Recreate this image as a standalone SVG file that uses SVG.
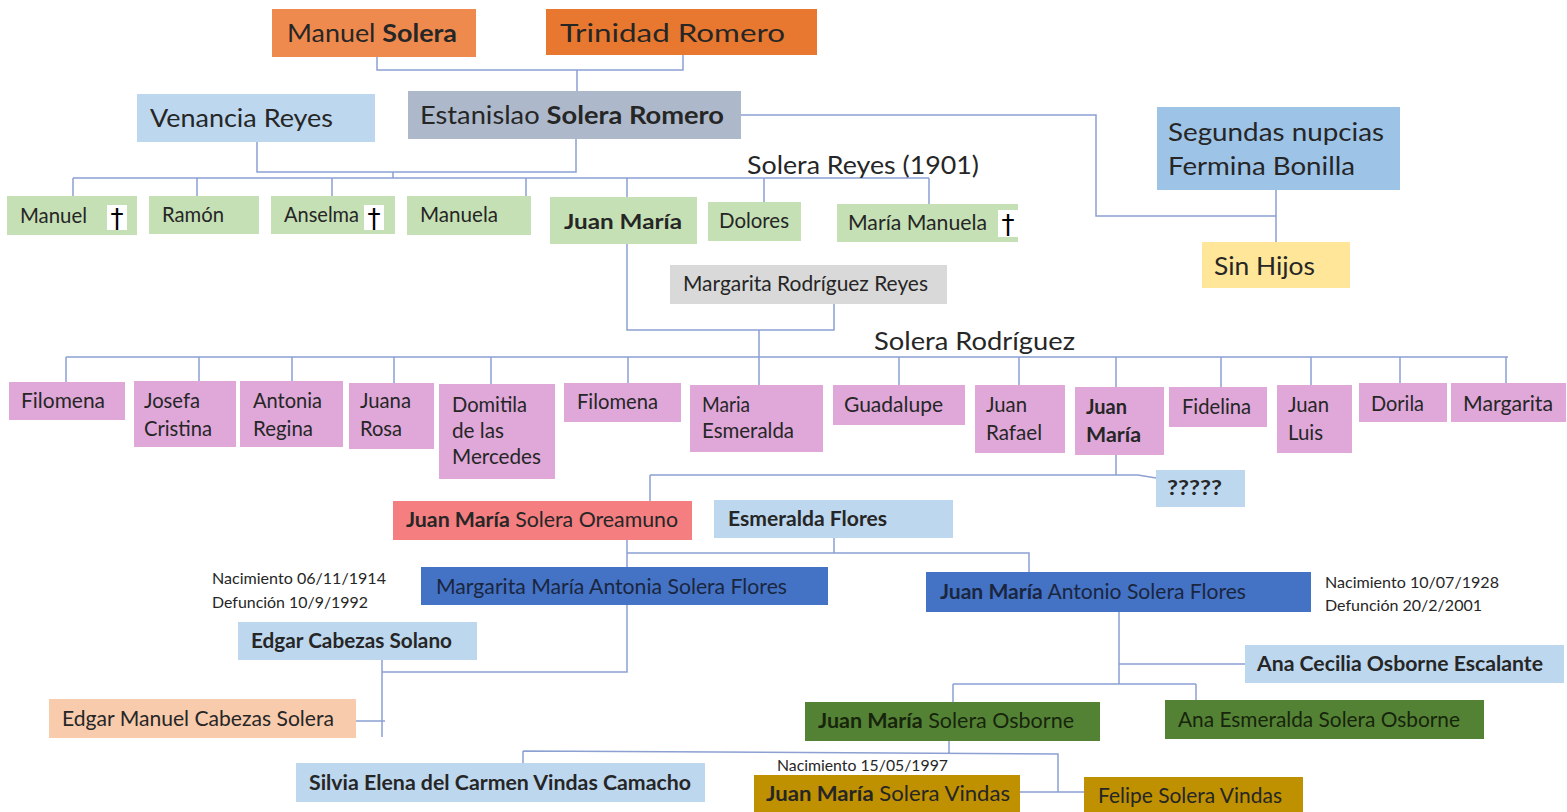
<svg xmlns="http://www.w3.org/2000/svg" width="1567" height="812" viewBox="0 0 1567 812">
<style>
text{font-family:Lato,"Open Sans","Liberation Sans",sans-serif;fill:#262626}
.b{font-weight:bold}
.L{font-size:25px}
.M{font-size:21px}
.S{font-size:15px}
.c{fill:none;stroke:#8CA0D2;stroke-width:1.5}
.cr{font-family:"DejaVu Sans",sans-serif;font-size:26px;fill:#000}
.dk{fill:#1a2640}
.dg{fill:#17250c}
</style>
<rect width="1567" height="812" fill="#fff"/>
<g id="connectors" class="c">
<path d="M377,57V70H683V55M577,70V91"/>
<path d="M257,142V172H576V139M393,172V178"/>
<path d="M73,178H929M73,178V196M197,178V196M332,178V196M526,178V196M627,178V198M764,178V202M929,178V204"/>
<path d="M740,115H1096V216H1276M1276,190V242"/>
<path d="M627,244V330H834V304M759,330V385"/>
<path d="M66,357H1508M66,357V382M199,357V381M292,357V381M394,357V383M491,357V384M628,357V383M899,357V385M1019,357V385M1116,357V387M1221,357V387M1311,357V385M1400,357V383M1506,357V383"/>
<path d="M1116,455V475M650,475H1138L1156,478M650,475V501"/>
<path d="M627,540V567M627,553H1029V572M834,538V553"/>
<path d="M627,605V672H382M382,659V737M356,721H385"/>
<path d="M1119,612V684M1119,664H1245M953,684H1196M953,684V702M1196,684V700"/>
<path d="M949,741V753M523,751L1058,754V792M1020,792H1085M523,751V763"/>
</g>
<g id="n-manuel-solera"><rect x="272" y="9" width="204" height="48" fill="#EF8A4E"/><text class="L" x="287" y="42" textLength="170" lengthAdjust="spacingAndGlyphs">Manuel <tspan class="b">Solera</tspan></text></g>
<g id="n-trinidad"><rect x="546" y="9" width="271" height="46" fill="#E8782F"/><text class="L" x="560" y="42" textLength="225" lengthAdjust="spacingAndGlyphs">Trinidad Romero</text></g>
<g id="n-venancia"><rect x="137" y="94" width="238" height="48" fill="#BDD7EE"/><text class="L" x="150" y="127" textLength="183" lengthAdjust="spacingAndGlyphs">Venancia Reyes</text></g>
<g id="n-estanislao"><rect x="408" y="91" width="333" height="48" fill="#ADB9CA"/><text class="L" x="420" y="124" textLength="304" lengthAdjust="spacingAndGlyphs">Estanislao <tspan class="b">Solera Romero</tspan></text></g>
<g id="n-segundas"><rect x="1157" y="107" width="243" height="83" fill="#9DC3E6"/><text class="L" x="1168" y="141" textLength="216" lengthAdjust="spacingAndGlyphs">Segundas nupcias</text><text class="L" x="1168" y="175" textLength="187" lengthAdjust="spacingAndGlyphs">Fermina Bonilla</text></g>
<g id="n-sinhijos"><rect x="1202" y="242" width="148" height="46" fill="#FFE699"/><text class="L" x="1214" y="275" textLength="101" lengthAdjust="spacingAndGlyphs">Sin Hijos</text></g>
<text id="lbl-solera-reyes" class="L" x="747" y="174" textLength="232" lengthAdjust="spacingAndGlyphs">Solera Reyes (1901)</text>
<g id="n-manuel"><rect x="7" y="196" width="130" height="39" fill="#C5E0B4"/><text class="M" x="20" y="223" textLength="67" lengthAdjust="spacingAndGlyphs">Manuel</text><rect x="107" y="205" width="20" height="25" fill="#fff"/><text class="cr" x="117" y="228" text-anchor="middle">†</text></g>
<g id="n-ramon"><rect x="149" y="196" width="110" height="38" fill="#C5E0B4"/><text class="M" x="162" y="222" textLength="62" lengthAdjust="spacingAndGlyphs">Ramón</text></g>
<g id="n-anselma"><rect x="271" y="196" width="124" height="38" fill="#C5E0B4"/><text class="M" x="284" y="222" textLength="75" lengthAdjust="spacingAndGlyphs">Anselma</text><rect x="364" y="205" width="20" height="25" fill="#fff"/><text class="cr" x="374" y="228" text-anchor="middle">†</text></g>
<g id="n-manuela"><rect x="407" y="196" width="124" height="39" fill="#C5E0B4"/><text class="M" x="420" y="222" textLength="78" lengthAdjust="spacingAndGlyphs">Manuela</text></g>
<g id="n-juanmaria1"><rect x="550" y="197" width="147" height="47" fill="#C5E0B4"/><text class="M b" x="564" y="229" textLength="118" lengthAdjust="spacingAndGlyphs">Juan María</text></g>
<g id="n-dolores"><rect x="708" y="202" width="93" height="39" fill="#C5E0B4"/><text class="M" x="719" y="228" textLength="70" lengthAdjust="spacingAndGlyphs">Dolores</text></g>
<g id="n-mariamanuela"><rect x="837" y="204" width="181" height="38" fill="#C5E0B4"/><text class="M" x="848" y="230" textLength="139" lengthAdjust="spacingAndGlyphs">María Manuela</text><rect x="998" y="210" width="20" height="27" fill="#fff"/><text class="cr" x="1008" y="234" text-anchor="middle">†</text></g>
<g id="n-margarita-rr"><rect x="670" y="265" width="277" height="39" fill="#D9D9D9"/><text class="M" x="683" y="291" textLength="245" lengthAdjust="spacingAndGlyphs">Margarita Rodríguez Reyes</text></g>
<text id="lbl-solera-rodriguez" class="L" x="874" y="350" textLength="201" lengthAdjust="spacingAndGlyphs">Solera Rodríguez</text>
<g id="n-filomena1"><rect x="9" y="382" width="116" height="38" fill="#DFA8D9"/><text class="M" x="21" y="408" textLength="84" lengthAdjust="spacingAndGlyphs">Filomena</text></g>
<g id="n-josefa"><rect x="134" y="381" width="102" height="66" fill="#DFA8D9"/><text class="M" x="144" y="408" textLength="56" lengthAdjust="spacingAndGlyphs">Josefa</text><text class="M" x="144" y="436" textLength="68" lengthAdjust="spacingAndGlyphs">Cristina</text></g>
<g id="n-antonia"><rect x="240" y="381" width="103" height="66" fill="#DFA8D9"/><text class="M" x="253" y="408" textLength="69" lengthAdjust="spacingAndGlyphs">Antonia</text><text class="M" x="253" y="436" textLength="60" lengthAdjust="spacingAndGlyphs">Regina</text></g>
<g id="n-juana"><rect x="349" y="383" width="85" height="66" fill="#DFA8D9"/><text class="M" x="360" y="408" textLength="51" lengthAdjust="spacingAndGlyphs">Juana</text><text class="M" x="360" y="436" textLength="42" lengthAdjust="spacingAndGlyphs">Rosa</text></g>
<g id="n-domitila"><rect x="439" y="384" width="116" height="95" fill="#DFA8D9"/><text class="M" x="452" y="412" textLength="75" lengthAdjust="spacingAndGlyphs">Domitila</text><text class="M" x="452" y="438" textLength="52" lengthAdjust="spacingAndGlyphs">de las</text><text class="M" x="452" y="464" textLength="89" lengthAdjust="spacingAndGlyphs">Mercedes</text></g>
<g id="n-filomena2"><rect x="564" y="383" width="117" height="39" fill="#DFA8D9"/><text class="M" x="577" y="409" textLength="81" lengthAdjust="spacingAndGlyphs">Filomena</text></g>
<g id="n-mariaesmeralda"><rect x="690" y="385" width="133" height="67" fill="#DFA8D9"/><text class="M" x="702" y="412" textLength="48" lengthAdjust="spacingAndGlyphs">Maria</text><text class="M" x="702" y="438" textLength="92" lengthAdjust="spacingAndGlyphs">Esmeralda</text></g>
<g id="n-guadalupe"><rect x="833" y="385" width="132" height="40" fill="#DFA8D9"/><text class="M" x="844" y="412" textLength="99" lengthAdjust="spacingAndGlyphs">Guadalupe</text></g>
<g id="n-juanrafael"><rect x="975" y="385" width="90" height="68" fill="#DFA8D9"/><text class="M" x="986" y="412" textLength="41" lengthAdjust="spacingAndGlyphs">Juan</text><text class="M" x="986" y="440" textLength="56" lengthAdjust="spacingAndGlyphs">Rafael</text></g>
<g id="n-juanmaria2"><rect x="1075" y="387" width="89" height="68" fill="#DFA8D9"/><text class="M b" x="1086" y="414" textLength="41" lengthAdjust="spacingAndGlyphs">Juan</text><text class="M b" x="1086" y="442" textLength="55" lengthAdjust="spacingAndGlyphs">María</text></g>
<g id="n-fidelina"><rect x="1169" y="387" width="98" height="40" fill="#DFA8D9"/><text class="M" x="1182" y="414" textLength="69" lengthAdjust="spacingAndGlyphs">Fidelina</text></g>
<g id="n-juanluis"><rect x="1277" y="385" width="75" height="68" fill="#DFA8D9"/><text class="M" x="1288" y="412" textLength="41" lengthAdjust="spacingAndGlyphs">Juan</text><text class="M" x="1288" y="440" textLength="35" lengthAdjust="spacingAndGlyphs">Luis</text></g>
<g id="n-dorila"><rect x="1359" y="383" width="88" height="39" fill="#DFA8D9"/><text class="M" x="1371" y="411" textLength="53" lengthAdjust="spacingAndGlyphs">Dorila</text></g>
<g id="n-margarita"><rect x="1451" y="383" width="115" height="39" fill="#DFA8D9"/><text class="M" x="1463" y="411" textLength="90" lengthAdjust="spacingAndGlyphs">Margarita</text></g>
<g id="n-unknown"><rect x="1156" y="470" width="89" height="37" fill="#BDD7EE"/><text class="M b" x="1167" y="495" textLength="55" lengthAdjust="spacingAndGlyphs">?????</text></g>
<g id="n-oreamuno"><rect x="393" y="501" width="299" height="39" fill="#F47E80"/><text class="M" x="406" y="527" textLength="272" lengthAdjust="spacingAndGlyphs"><tspan class="b">Juan María</tspan> Solera Oreamuno</text></g>
<g id="n-esmeralda-flores"><rect x="714" y="500" width="239" height="38" fill="#BDD7EE"/><text class="M b" x="728" y="526" textLength="159" lengthAdjust="spacingAndGlyphs">Esmeralda  Flores</text></g>
<g id="n-mma"><rect x="421" y="567" width="407" height="38" fill="#4472C4"/><text class="M dk" x="436" y="594" textLength="351" lengthAdjust="spacingAndGlyphs">Margarita María Antonia Solera Flores</text></g>
<g id="n-mma-dates"><text class="S" x="212" y="584" textLength="174" lengthAdjust="spacingAndGlyphs">Nacimiento 06/11/1914</text><text class="S" x="212" y="608" textLength="156" lengthAdjust="spacingAndGlyphs">Defunción 10/9/1992</text></g>
<g id="n-jma"><rect x="926" y="572" width="385" height="40" fill="#4472C4"/><text class="M dk" x="940" y="599" textLength="306" lengthAdjust="spacingAndGlyphs"><tspan class="b">Juan María</tspan> Antonio Solera Flores</text></g>
<g id="n-jma-dates"><text class="S" x="1325" y="588" textLength="174" lengthAdjust="spacingAndGlyphs">Nacimiento 10/07/1928</text><text class="S" x="1325" y="611" textLength="157" lengthAdjust="spacingAndGlyphs">Defunción 20/2/2001</text></g>
<g id="n-edgar-cs"><rect x="238" y="622" width="239" height="38" fill="#BDD7EE"/><text class="M b" x="251" y="648" textLength="201" lengthAdjust="spacingAndGlyphs">Edgar Cabezas Solano</text></g>
<g id="n-ana-cecilia"><rect x="1245" y="645" width="319" height="38" fill="#BDD7EE"/><text class="M b" x="1257" y="671" textLength="286" lengthAdjust="spacingAndGlyphs">Ana Cecilia Osborne Escalante</text></g>
<g id="n-edgar-mcs"><rect x="49" y="699" width="307" height="39" fill="#F8CBAD"/><text class="M" x="62" y="726" textLength="272" lengthAdjust="spacingAndGlyphs">Edgar Manuel Cabezas Solera</text></g>
<g id="n-jso"><rect x="805" y="702" width="295" height="39" fill="#548235"/><text class="M dg" x="818" y="728" textLength="256" lengthAdjust="spacingAndGlyphs"><tspan class="b">Juan María</tspan>  Solera Osborne</text></g>
<g id="n-ana-esmeralda"><rect x="1165" y="700" width="319" height="39" fill="#548235"/><text class="M dg" x="1178" y="727" textLength="282" lengthAdjust="spacingAndGlyphs">Ana Esmeralda  Solera Osborne</text></g>
<g id="n-silvia"><rect x="296" y="763" width="409" height="39" fill="#BDD7EE"/><text class="M b" x="309" y="790" textLength="382" lengthAdjust="spacingAndGlyphs">Silvia Elena del Carmen Vindas Camacho</text></g>
<text id="lbl-jmsv-date" class="S" x="777" y="771" textLength="171" lengthAdjust="spacingAndGlyphs">Nacimiento 15/05/1997</text>
<g id="n-jmsv"><rect x="754" y="775" width="266" height="37" fill="#BF9000"/><text class="M" x="766" y="801" textLength="244" lengthAdjust="spacingAndGlyphs"><tspan class="b">Juan María</tspan> Solera Vindas</text></g>
<g id="n-felipe"><rect x="1084" y="777" width="219" height="35" fill="#BF9000"/><text class="M" x="1098" y="803" textLength="184" lengthAdjust="spacingAndGlyphs">Felipe Solera Vindas</text></g>
</svg>
